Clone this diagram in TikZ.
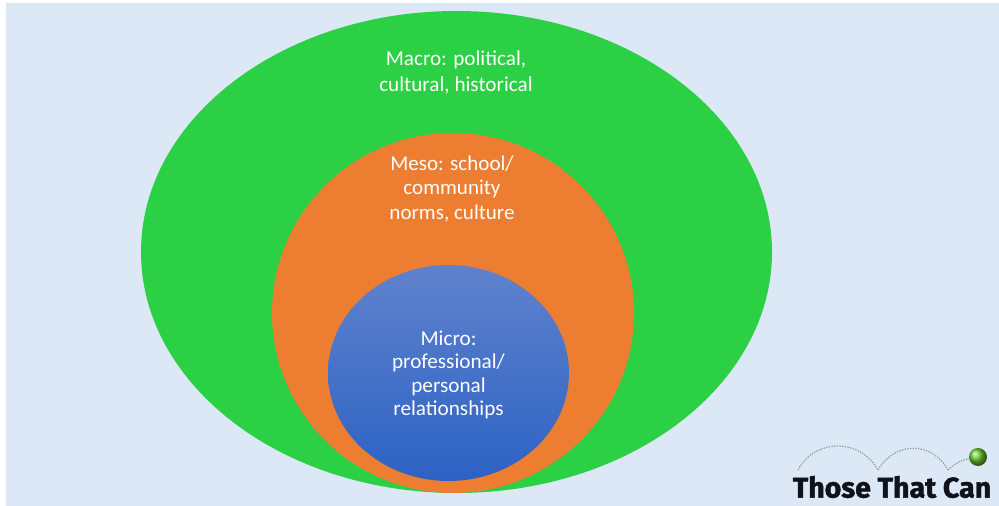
\documentclass[tikz,border=0pt]{standalone}
\usepackage{fontspec}
\setmainfont{Carlito}
\newfontfamily\logofont[FakeBold=1.6]{Fira Sans}
\definecolor{panelbg}{RGB}{221,232,247}
\definecolor{macrogreen}{RGB}{44,208,68}
\definecolor{mesoorange}{RGB}{237,125,49}
\definecolor{microtop}{RGB}{96,130,205}
\definecolor{microbot}{RGB}{44,98,196}
\definecolor{logodark}{RGB}{14,18,26}
\definecolor{logodots}{RGB}{150,160,165}
\definecolor{ballgreen}{RGB}{100,200,40}
\tikzset{
  x=0.75pt,y=-0.75pt,
  lvl/.style={align=center,text=white,inner sep=0pt},
  hop/.style={draw=logodots,densely dotted,line width=1pt},
  logo/.style={text=logodark,font=\logofont\bfseries\fontsize{21.4pt}{22pt}\selectfont,inner sep=0pt}
}
\begin{document}
\begin{tikzpicture}
\useasboundingbox (0,0) rectangle (999,506);
\fill[white] (0,0) rectangle (999,506);
\fill[panelbg] (6,3) rectangle (999,506);
\fill[macrogreen] (456.5,252) ellipse [x radius=315.5,y radius=241];
\fill[mesoorange] (453,313) ellipse [x radius=181,y radius=180];
\shade[top color=microtop,bottom color=microbot,shading=axis] (448.5,373) ellipse [x radius=120.5,y radius=108];
\node[lvl,font=\fontsize{15.9pt}{19.5pt}\selectfont] (macro) at (456,72) {Macro: political,\\cultural, historical};
\node[lvl,font=\fontsize{15.8pt}{18.4pt}\selectfont] (meso) at (452,189) {Meso: school/\\community\\norms, culture};
\node[lvl,font=\fontsize{15.9pt}{17.7pt}\selectfont] (micro) at (448.5,375) {Micro:\\professional/\\personal\\relationships};
\node[logo] (brand) at (892,487) {Those That Can};
\coordinate (h0) at (798,470);
\coordinate (h1) at (878,470);
\coordinate (h2) at (948,470);
\node[circle,inner sep=0pt,minimum size=13.5pt,ball color=ballgreen] (ball) at (978,457) {};
\draw[hop] (h0) .. controls (815,438) and (860,438) .. (h1);
\draw[hop] (h1) .. controls (895,441) and (932,441) .. (h2);
\draw[hop] (h2) .. controls (955,463) and (962,460) .. (ball);
\end{tikzpicture}
\end{document}
